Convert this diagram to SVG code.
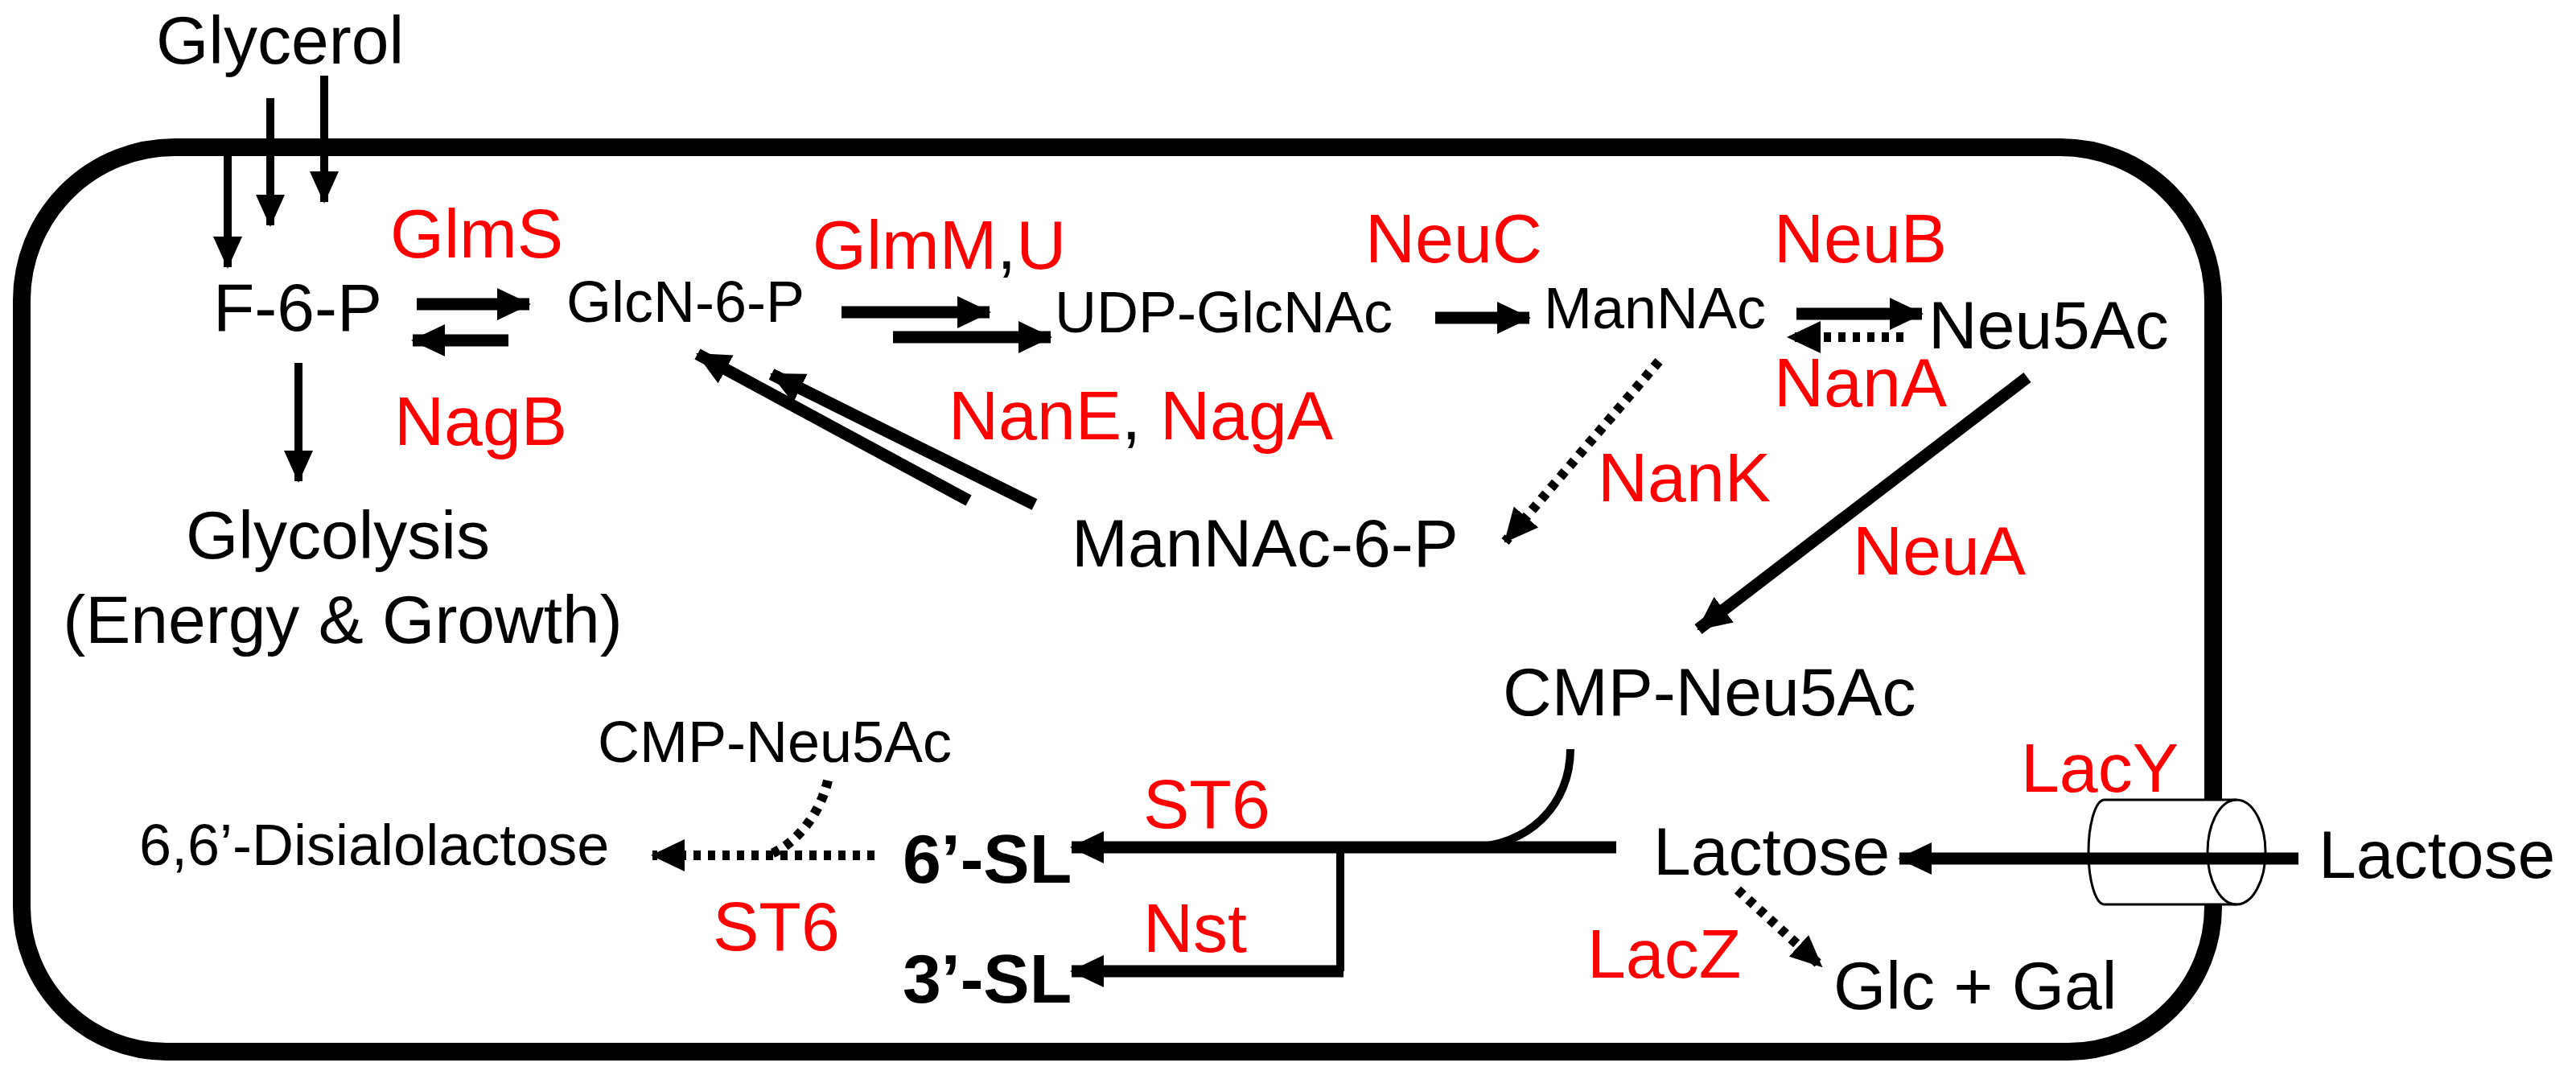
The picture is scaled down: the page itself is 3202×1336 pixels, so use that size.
<svg xmlns="http://www.w3.org/2000/svg" width="3202" height="1336" viewBox="0 0 3202 1336">
<defs>
<marker id="ah" markerUnits="userSpaceOnUse" markerWidth="44" markerHeight="44" viewBox="0 0 44 44" refX="40" refY="22" orient="auto"><path d="M0,2 L42,22 L0,42 Z" fill="#000"/></marker>
<marker id="ahs" markerUnits="userSpaceOnUse" markerWidth="40" markerHeight="40" viewBox="0 0 40 40" refX="38" refY="20" orient="auto"><path d="M0,2 L40,20 L0,38 Z" fill="#000"/></marker>
</defs>
<style>
text{font-family:"Liberation Sans",Arial,sans-serif;fill:#000}
.m{font-size:84px}
.s{font-size:72px}
.r{font-size:86px;fill:#ff0000}
.b{font-size:86px;font-weight:bold}
.ln{stroke:#000;stroke-width:15;fill:none}
.thin{stroke:#000;stroke-width:10;fill:none}
.dot{stroke:#000;stroke-width:12;fill:none;stroke-dasharray:9 9}
</style>
<g id="cell">
<path d="M2751,994 V373 A190,190 0 0 0 2561,183 H217 A190,190 0 0 0 27,373 V1127 A180,180 0 0 0 207,1307 H2571 A180,180 0 0 0 2751,1127 V1124" fill="none" stroke="#000" stroke-width="22"/>
<g id="lacy-channel">
<path d="M2780,994 H2616 A20,65 0 0 0 2616,1124 H2780" fill="#fff" stroke="#000" stroke-width="3"/>
<ellipse cx="2780" cy="1059" rx="36" ry="65" fill="none" stroke="#000" stroke-width="3"/>
</g>
</g>
<g id="connectors">
<line class="thin" x1="283" y1="178" x2="283" y2="332" marker-end="url(#ahs)"/>
<line class="thin" x1="336" y1="122" x2="336" y2="280" marker-end="url(#ahs)"/>
<line class="thin" x1="403" y1="94" x2="403" y2="251" marker-end="url(#ahs)"/>
<line class="ln" x1="518" y1="378" x2="658" y2="378" marker-end="url(#ah)"/>
<line class="ln" x1="632" y1="423" x2="513" y2="423" marker-end="url(#ah)"/>
<line class="thin" x1="371" y1="451" x2="371" y2="598" marker-end="url(#ahs)"/>
<line class="ln" x1="1046" y1="388" x2="1230" y2="388" marker-end="url(#ah)"/>
<line class="ln" x1="1110" y1="419" x2="1306" y2="419" marker-end="url(#ah)"/>
<line class="ln" x1="1784" y1="395" x2="1901" y2="395" marker-end="url(#ah)"/>
<line class="ln" x1="2233" y1="390" x2="2389" y2="390" marker-end="url(#ah)"/>
<line class="dot" x1="2366" y1="419" x2="2223" y2="419" marker-end="url(#ah)"/>
<line class="ln" x1="1204" y1="622" x2="867" y2="440" marker-end="url(#ah)"/>
<line class="ln" x1="1286" y1="627" x2="959" y2="465" marker-end="url(#ah)"/>
<line class="dot" x1="2062" y1="449" x2="1871" y2="673" marker-end="url(#ah)"/>
<line class="ln" x1="2520" y1="469" x2="2111" y2="782" marker-end="url(#ah)"/>
<path class="thin" d="M1952,931 C1952,1000 1900,1053 1825,1053"/>
<line class="ln" x1="2009" y1="1053" x2="1332" y2="1053" marker-end="url(#ah)"/>
<path class="thin" d="M1666,1053 V1207"/>
<line class="ln" x1="1670" y1="1207" x2="1332" y2="1207" marker-end="url(#ah)"/>
<line class="ln" x1="2857" y1="1067" x2="2361" y2="1067" marker-end="url(#ah)"/>
<line class="dot" x1="2160" y1="1106" x2="2264" y2="1201" marker-end="url(#ahs)"/>
<path class="dot" d="M1029,970 C1020,1010 990,1050 954,1063"/>
<line class="dot" x1="1087" y1="1063" x2="811" y2="1063" marker-end="url(#ah)"/>
</g>
<g id="n-glycerol"><text class="m" x="194" y="79" font-size="86">Glycerol</text></g>
<g id="n-f6p"><text class="m" x="265" y="411">F-6-P</text></g>
<g id="n-glcn6p"><text class="s" x="704" y="400">GlcN-6-P</text></g>
<g id="n-udp"><text class="s" x="1311" y="413">UDP-GlcNAc</text></g>
<g id="n-mannac"><text class="s" x="1919" y="408">ManNAc</text></g>
<g id="n-neu5ac"><text class="m" x="2397" y="433">Neu5Ac</text></g>
<g id="n-mannac6p"><text class="m" x="1332" y="704">ManNAc-6-P</text></g>
<g id="n-glycolysis"><text class="m" x="420" y="694" text-anchor="middle">Glycolysis</text><text class="m" x="426" y="799" text-anchor="middle">(Energy &amp; Growth)</text></g>
<g id="n-cmp1"><text class="m" x="1868" y="889">CMP-Neu5Ac</text></g>
<g id="n-cmp2"><text class="s" x="743" y="947" font-size="76">CMP-Neu5Ac</text></g>
<g id="n-disl"><text class="s" x="173" y="1075" font-size="68">6,6’-Disialolactose</text></g>
<g id="n-6sl"><text class="b" x="1122" y="1097">6’-SL</text></g>
<g id="n-3sl"><text class="b" x="1122" y="1246">3’-SL</text></g>
<g id="n-lactose-in"><text class="m" x="2055" y="1087">Lactose</text></g>
<g id="n-lactose-out"><text class="m" x="2882" y="1091">Lactose</text></g>
<g id="n-glcgal"><text class="m" x="2279" y="1254">Glc + Gal</text></g>
<g id="enzymes">
<text class="r" x="485" y="320">GlmS</text>
<text class="r" x="490" y="553">NagB</text>
<text class="r" x="1010" y="334">GlmM<tspan fill="#000">,</tspan>U</text>
<text class="r" x="1697" y="326">NeuC</text>
<text class="r" x="2205" y="326">NeuB</text>
<text class="r" x="2205" y="505">NanA</text>
<text class="r" x="1179" y="546">NanE<tspan fill="#000">,</tspan> NagA</text>
<text class="r" x="1986" y="623">NanK</text>
<text class="r" x="2303" y="714">NeuA</text>
<text class="r" x="2512" y="984">LacY</text>
<text class="r" x="1421" y="1029">ST6</text>
<text class="r" x="886" y="1181">ST6</text>
<text class="r" x="1421" y="1183">Nst</text>
<text class="r" x="1973" y="1215">LacZ</text>
</g>
</svg>
